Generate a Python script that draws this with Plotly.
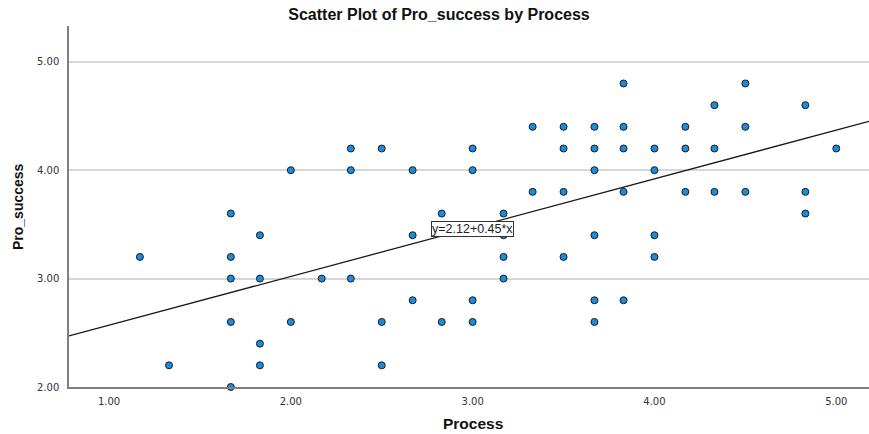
import plotly.graph_objects as go

# Data
process = [1.17, 1.33,
           1.67, 1.67, 1.67, 1.67, 1.67,
           1.83, 1.83, 1.83, 1.83,
           2.00, 2.00,
           2.17,
           2.33, 2.33, 2.33,
           2.50, 2.50, 2.50,
           2.67, 2.67, 2.67,
           2.83, 2.83,
           3.00, 3.00, 3.00, 3.00,
           3.17, 3.17, 3.17, 3.17,
           3.33, 3.33,
           3.50, 3.50, 3.50, 3.50,
           3.67, 3.67, 3.67, 3.67, 3.67, 3.67,
           3.83, 3.83, 3.83, 3.83, 3.83,
           4.00, 4.00, 4.00, 4.00,
           4.17, 4.17, 4.17,
           4.33, 4.33, 4.33,
           4.50, 4.50, 4.50,
           4.83, 4.83, 4.83,
           5.00]
pro_success = [3.2, 2.2,
               3.6, 3.2, 3.0, 2.6, 2.0,
               3.4, 3.0, 2.4, 2.2,
               4.0, 2.6,
               3.0,
               4.2, 4.0, 3.0,
               4.2, 2.6, 2.2,
               4.0, 3.4, 2.8,
               3.6, 2.6,
               4.2, 4.0, 2.8, 2.6,
               3.6, 3.4, 3.2, 3.0,
               4.4, 3.8,
               4.4, 4.2, 3.8, 3.2,
               4.4, 4.2, 4.0, 3.4, 2.8, 2.6,
               4.8, 4.4, 4.2, 3.8, 2.8,
               4.2, 4.0, 3.4, 3.2,
               4.4, 4.2, 3.8,
               4.6, 4.2, 3.8,
               4.8, 4.4, 3.8,
               4.6, 3.8, 3.6,
               4.2]

fit_intercept = 2.12
fit_slope = 0.45
fit_label = "y=2.12+0.45*x"

x_ticks = [1, 2, 3, 4, 5]
x_tick_labels = ["1.00", "2.00", "3.00", "4.00", "5.00"]
y_ticks = [2, 3, 4, 5]
y_tick_labels = ["2.00", "3.00", "4.00", "5.00"]

x_range = [0.78, 5.18]
y_range = [2.0, 5.33]

fit_x = x_range
fit_y = [fit_intercept + fit_slope * v for v in fit_x]

fig = go.Figure()
fig.add_trace(go.Scatter(
    x=fit_x, y=fit_y, mode="lines",
    line=dict(color="#1a1a1a", width=1.3),
    hoverinfo="skip", showlegend=False))
fig.add_trace(go.Scatter(
    x=process, y=pro_success, mode="markers",
    marker=dict(size=7, color="#1a8ce0", line=dict(color="#1b1b1b", width=1)),
    showlegend=False, cliponaxis=False))

fig.add_annotation(
    x=3.0, y=3.46,
    xref="x", yref="y", text=fit_label, showarrow=False,
    font=dict(family="Liberation Sans, Arial, sans-serif", size=12.5, color="#222"),
    bgcolor="white", bordercolor="#333", borderwidth=1, borderpad=0)

fig.update_layout(
    width=869, height=434,
    margin=dict(l=69, r=0, t=26, b=47),
    paper_bgcolor="white", plot_bgcolor="white",
    title=dict(text="<b>Scatter Plot of Pro_success by Process</b>",
               x=(439 - 0) / 869, xanchor="center", y=1 - 14 / 434, yanchor="middle",
               font=dict(family="Liberation Sans, Arial, sans-serif", size=16, color="#111")),
    xaxis=dict(range=x_range, tickvals=x_ticks, ticktext=x_tick_labels,
               showgrid=False, zeroline=False, showline=True,
               linecolor="#7f7f7f", linewidth=1.5, ticks="",
               tickfont=dict(family="DejaVu Sans, sans-serif", size=10, color="#333"),
               ticklabelstandoff=4),
    yaxis=dict(range=y_range, tickvals=y_ticks, ticktext=y_tick_labels,
               showgrid=True, gridcolor="#d6d6d6", gridwidth=1.6,
               zeroline=False, showline=True,
               linecolor="#7f7f7f", linewidth=1.5, ticks="",
               tickfont=dict(family="DejaVu Sans, sans-serif", size=10, color="#333"),
               ticklabelstandoff=6),
)

fig.add_annotation(text="<b>Process</b>", xref="paper", yref="paper",
                   x=(473 - 69) / 800, y=-(424 - 387) / 361, showarrow=False,
                   xanchor="center", yanchor="middle",
                   font=dict(family="Liberation Sans, Arial, sans-serif", size=15.5, color="#111"))
fig.add_annotation(text="<b>Pro_success</b>", xref="paper", yref="paper",
                   x=-(69 - 18) / 800, y=(387 - 207) / 361, showarrow=False,
                   xanchor="center", yanchor="middle", textangle=-90,
                   font=dict(family="Liberation Sans, Arial, sans-serif", size=14, color="#111"))

fig.write_html("out.html", config={"displayModeBar": False},
               post_script="document.body.style.margin='0';document.body.style.padding='0';")
